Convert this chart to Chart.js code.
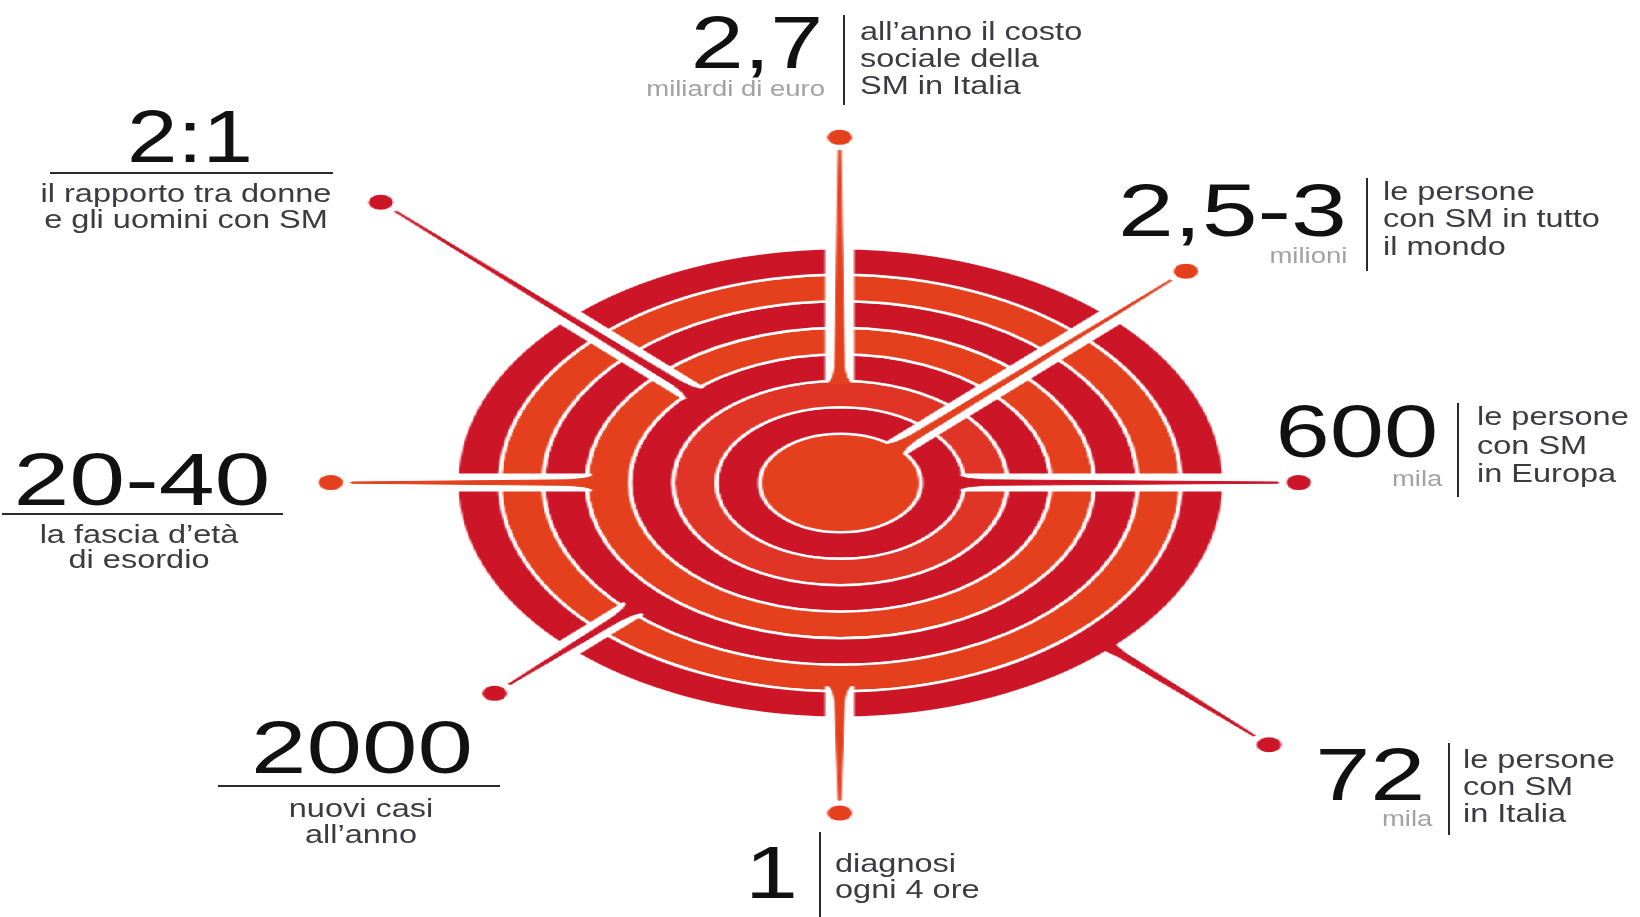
<!DOCTYPE html>
<html>
<head>
<meta charset="utf-8">
<script src="https://cdn.jsdelivr.net/npm/chart.js"></script>
<style>
  html, body { margin: 0; padding: 0; background: #fff; }
  body { width: 1640px; height: 917px; position: relative; overflow: hidden; font-family: "Liberation Sans", Arial, sans-serif; }
  #stage { position: absolute; left: 0; top: 0; width: 1003px; height: 917px; transform-origin: 0 0; transform: scaleX(1.635); }
  #ringBox { position: absolute; left: 277.8px; top: 247px; width: 472px; height: 472px; }
  #spokeBox { position: absolute; left: 0; top: 0; }
  .t { position: absolute; white-space: pre; }
  .rule { position: absolute; background: #2b2b2b; }
</style>
</head>
<body>
<div id="stage">
  <div id="ringBox"><canvas id="rings" width="472" height="472"></canvas></div>
  <div id="spokeBox"><canvas id="spokes" width="1003" height="917"></canvas></div>
</div>
<script>
const crimson = "#cd1528";
const orange = "#e5401e";

// RING BANDS (outermost first, last one is the centre disc)
const ringColors = [crimson, orange, crimson, orange, crimson, "#e03426", crimson, orange];
const ringWeights = [1, 1, 1, 1, 1, 1, 1, 1.86];

// SPOKES, clockwise from the top. angle in degrees (0 = right, 90 = up)
const spokeAngles = [90, 45, 0, -45, -90, -135, 180, 135];
const spokeBase = [103, 50, 76, 234, 208, 182, 155, 129];
const dotDistance = [351, 304, 285, 377, 336, 303, 316, 403];
const spokeColors = [orange, orange, crimson, crimson, orange, crimson, orange, crimson];

// LABELS, same order as the spokes
const bigNumbers = ["2,7", "2,5-3", "600", "72", "1", "2000", "20-40", "2:1"];
const units = ["miliardi di euro", "milioni", "mila", "mila", "", "", "", ""];
const captions = [
  "all’anno il costo\nsociale della\nSM in Italia",
  "le persone\ncon SM in tutto\nil mondo",
  "le persone\ncon SM\nin Europa",
  "le persone\ncon SM\nin Italia",
  "diagnosi\nogni 4 ore",
  "nuovi casi\nall’anno",
  "la fascia d’età\ndi esordio",
  "il rapporto tra donne\ne gli uomini con SM"
];

// text placement on the page
const blocks = [
  { big: [823, 68, "right", 1.27], unit: [825, 97], vline: [844, 15, 105], cap: [860, 40, "left", 27] },
  { big: [1347, 236, "right", 1.34], unit: [1347, 264], vline: [1367, 178, 271], cap: [1383, 200, "left", 27.5] },
  { big: [1438, 457, "right", 1.3], unit: [1442, 487], vline: [1458, 403, 497], cap: [1477, 425, "left", 28.5] },
  { big: [1425, 800, "right", 1.32], unit: [1432, 827], vline: [1449, 743, 835], cap: [1463, 768, "left", 27] },
  { big: [745, 898, "left", 1.27], vline: [820, 832, 917], cap: [835, 872, "left", 26] },
  { big: [362, 773, "center", 1.33], hline: [218, 500, 786], cap: [361, 817, "center", 26] },
  { big: [142, 505, "center", 1.34], hline: [2, 283, 514], cap: [139, 543, "center", 25] },
  { big: [190, 162, "center", 1.21], hline: [50, 333, 173], cap: [186, 202, "center", 26] }
];

function addText(str, x, base, size, lh, color, align, sx) {
  let d = document.createElement("div");
  d.className = "t";
  d.textContent = str;
  d.style.fontSize = size + "px";
  d.style.lineHeight = lh + "px";
  d.style.color = color;
  d.style.top = (base - lh / 2 - 0.3465 * size) + "px";
  d.style.textAlign = align;
  if (align == "left") {
    d.style.left = x + "px";
    d.style.transformOrigin = "0 0";
  } else if (align == "right") {
    d.style.right = (1640 - x) + "px";
    d.style.transformOrigin = "100% 0";
  } else {
    d.style.left = (x - 400) + "px";
    d.style.width = "800px";
    d.style.transformOrigin = "50% 0";
  }
  d.style.transform = "scaleX(" + sx + ")";
  document.body.appendChild(d);
}

function addRule(x, y, w, h) {
  let r = document.createElement("div");
  r.className = "rule";
  r.style.left = x + "px";
  r.style.top = y + "px";
  r.style.width = w + "px";
  r.style.height = h + "px";
  document.body.appendChild(r);
}

blocks.forEach((b, i) => {
  addText(bigNumbers[i], b.big[0], b.big[1], 75, 75, "#111", b.big[2], b.big[3]);
  if (b.unit) addText(units[i], b.unit[0], b.unit[1], 22, 22, "#a2a2a2", "right", 1.25);
  if (b.vline) addRule(b.vline[0] - 1, b.vline[1], 2, b.vline[2] - b.vline[1]);
  if (b.hline) addRule(b.hline[0], b.hline[2] - 1, b.hline[1] - b.hline[0], 2);
  addText(captions[i], b.cap[0], b.cap[1], 25, b.cap[3], "#3b3b42", b.cap[2], 1.3);
});

// RINGS
new Chart(document.getElementById("rings"), {
  type: "doughnut",
  data: {
    datasets: ringColors.map((c, i) => ({
      data: [1],
      backgroundColor: c,
      borderColor: "#fff",
      borderWidth: i == ringColors.length - 1 ? 0 : 2.5,
      weight: ringWeights[i]
    }))
  },
  options: {
    responsive: false,
    animation: false,
    events: [],
    cutout: 0,
    rotation: 45,
    plugins: { legend: { display: false }, tooltip: { enabled: false } }
  }
});

// SPOKES AND DOTS
function polar(r, deg) {
  let a = deg * Math.PI / 180;
  return { x: r * Math.cos(a), y: r * Math.sin(a) };
}
function local(deg, along, across) {
  let a = deg * Math.PI / 180;
  return {
    x: along * Math.cos(a) - across * Math.sin(a),
    y: along * Math.sin(a) + across * Math.cos(a)
  };
}

let sets = [];
spokeAngles.forEach((ang, i) => {
  let b = spokeBase[i];
  let tip = dotDistance[i] - 13;
  if (b < 230) {
    // white cut through the rings
    sets.push({
      data: [polar(b - 1, ang), polar(250, ang)],
      borderColor: "#fff", borderWidth: 18, borderCapStyle: "butt",
      pointRadius: 0, fill: false, order: 3
    });
  }
  let profile = [[b - 3, -7], [b + 4, -4.2], [b + 14, -2.8], [tip, -0.6],
                 [tip, 0.6], [b + 14, 2.8], [b + 4, 4.2], [b - 3, 7]];
  sets.push({
    data: profile.map(p => local(ang, p[0], p[1])),
    borderColor: spokeColors[i], backgroundColor: spokeColors[i], borderWidth: 1,
    pointRadius: 0, fill: "shape", order: 2
  });
});
sets.push({
  data: spokeAngles.map((a, i) => polar(dotDistance[i], a)),
  showLine: false, pointRadius: 7.5, pointBorderWidth: 0,
  pointBackgroundColor: spokeColors, order: 1
});

new Chart(document.getElementById("spokes"), {
  type: "line",
  data: { datasets: sets },
  options: {
    responsive: false,
    animation: false,
    events: [],
    layout: { padding: 0 },
    scales: {
      x: { type: "linear", min: -513.76, max: 489.24, display: false },
      y: { type: "linear", min: -434, max: 483, display: false }
    },
    plugins: { legend: { display: false }, tooltip: { enabled: false } }
  }
});
</script>
</body>
</html>
